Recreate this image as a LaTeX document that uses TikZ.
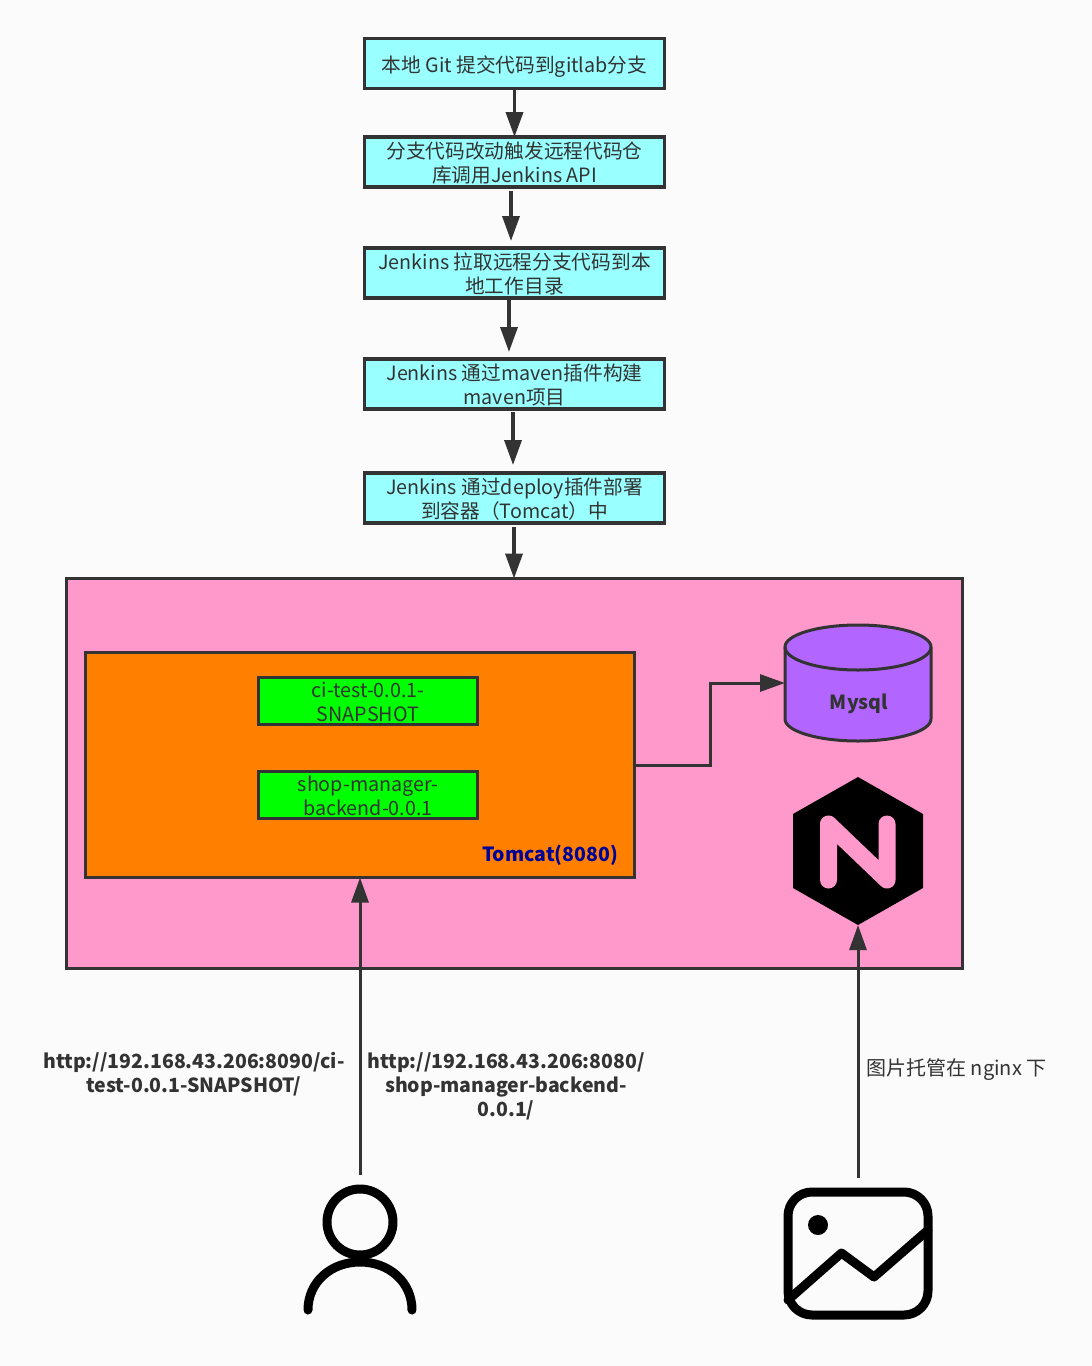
\documentclass[tikz,border=0pt]{standalone}
\usepackage{fontspec}
\setmainfont{Noto Sans CJK SC}
\usetikzlibrary{arrows.meta,calc}
\definecolor{bgc}{HTML}{FBFBFB}
\definecolor{ink}{HTML}{333333}
\definecolor{cyanbox}{HTML}{99FFFF}
\definecolor{pinkbox}{HTML}{FF99CC}
\definecolor{orangebox}{HTML}{FF8000}
\definecolor{greenbox}{HTML}{00FF00}
\definecolor{purplebox}{HTML}{B266FF}
\definecolor{navytext}{HTML}{000099}
\newcommand{\lowtext}[1]{\raisebox{-9pt}[0pt][0pt]{\begin{tabular}{@{}c@{}}#1\end{tabular}}}
\tikzset{
  x=1pt,y=-1pt,
  basebox/.style={draw=ink,line width=3.2pt,inner sep=0pt,outer sep=0pt,align=center,text=ink,font=\fontsize{19.7}{24}\selectfont},
  stepbox/.style={basebox,fill=cyanbox,minimum width=300pt,minimum height=50pt},
  warbox/.style={basebox,line width=3pt,fill=greenbox,minimum width=219pt,minimum height=47pt},
  flow/.style={draw=ink,line width=3.6pt,-{Triangle[length=25pt,width=17pt]}},
  link/.style={draw=ink,line width=3pt,-{Triangle[length=25pt,width=17pt]}},
  lbl/.style={align=center,text=ink,inner sep=0pt,font=\fontsize{20}{24}\selectfont},
  blbl/.style={lbl,font=\fontsize{19.5}{24}\selectfont\bfseries},
  icon/.style={draw=black,line width=9pt,line cap=round,line join=round},
}
\begin{document}
\begin{tikzpicture}
\useasboundingbox (0,0) rectangle (1092,1366);
\fill[bgc] (0,0) rectangle (1092,1366);

\node[stepbox] (b1) at (514.5,63.5) {\lowtext{本地 Git 提交代码到gitlab分支}};
\node[stepbox] (b2) at (514.5,162) {\lowtext{分支代码改动触发远程代码仓\\库调用Jenkins API}};
\node[stepbox] (b3) at (514.5,273) {\lowtext{Jenkins 拉取远程分支代码到本\\地工作目录}};
\node[stepbox] (b4) at (514.5,384) {\lowtext{Jenkins 通过maven插件构建\\maven项目}};
\node[stepbox] (b5) at (514.5,498) {\lowtext{Jenkins 通过deploy插件部署\\到容器（Tomcat）中}};

\node[basebox,fill=pinkbox,minimum width=896pt,minimum height=390pt] (host) at (514.5,773.5) {};
\node[basebox,fill=orangebox,minimum width=549pt,minimum height=225pt] (tomcat) at (360,765) {};
\node[warbox] (w1) at (368,701) {\lowtext{ci-test-0.0.1-\\SNAPSHOT}};
\node[warbox] (w2) at (368,794.5) {\lowtext{shop-manager-\\backend-0.0.1}};
\node[blbl,text=navytext,anchor=east] (tlabel) at (618,855) {Tomcat(8080)};

% database cylinder
\node[minimum width=146pt,minimum height=118pt,inner sep=0pt,outer sep=0pt] (mysql) at (858,683) {};
\filldraw[draw=ink,fill=purplebox,line width=3pt]
  (785,647) -- (785,719) arc[start angle=180,end angle=360,x radius=73,y radius=-22] -- (931,647)
  arc[start angle=0,end angle=180,x radius=73,y radius=-22] -- cycle;
\draw[ink,line width=3pt] (785,647) arc[start angle=180,end angle=360,x radius=73,y radius=-23];
\node[blbl] (mysqllabel) at (859,704) {Mysql};

% nginx logo
\node[minimum width=130pt,minimum height=148pt,inner sep=0pt,outer sep=0pt] (nginx) at (858,851) {};
\fill[black] (858,777) -- (923,814) -- (923,888) -- (858,925) -- (793,888) -- (793,814) -- cycle;
\draw[pinkbox,line width=17pt,line cap=round,line join=round]
  (828.5,880) -- (828.5,824) -- (887,880) -- (887,824);

% person icon
\node[minimum width=114pt,minimum height=130pt,inner sep=0pt,outer sep=0pt] (person) at (360,1250) {};
\draw[icon] (360,1222) circle[radius=33];
\draw[icon] (308,1310) .. controls (308,1282) and (331,1262) .. (360,1262)
  .. controls (389,1262) and (412,1282) .. (412,1310);

% picture icon
\node[minimum width=150pt,minimum height=133pt,inner sep=0pt,outer sep=0pt] (picture) at (858,1253.5) {};
\draw[icon,rounded corners=24pt] (788,1192) rectangle (928,1315);
\fill[black] (818,1225) circle[radius=10];
\draw[icon] (788,1300) -- (841.5,1253) -- (874,1277) -- (928,1230);

% connectors
\coordinate (f2s) at (511,191);
\coordinate (f2e) at (511,241);
\coordinate (f3s) at (509,299);
\coordinate (f3e) at (509,352);
\coordinate (f4s) at (513,412);
\coordinate (f4e) at (513,465);
\coordinate (f5s) at (514,527);
\coordinate (pstart) at (360,1175);
\coordinate (imstart) at (858,1178);
\draw[flow] (b1.south) -- (b2.north);
\draw[flow] (f2s) -- (f2e);
\draw[flow] (f3s) -- (f3e);
\draw[flow] (f4s) -- (f4e);
\draw[flow] (f5s) -- (f5s |- host.north);
\draw[link] (tomcat.east) -| (710,683) -- (mysql.west);
\draw[link] (pstart) -- (pstart |- tomcat.south);
\draw[link] (imstart) -- (nginx.south);

\node[blbl] (url1) at (194,1074) {http://192.168.43.206:8090/ci-\\test-0.0.1-SNAPSHOT/};
\node[blbl] (url2) at (506,1086) {http://192.168.43.206:8080/\\shop-manager-backend-\\0.0.1/};
\node[lbl] (imgnote) at (956.5,1070) {图片托管在 nginx 下};
\end{tikzpicture}
\end{document}
